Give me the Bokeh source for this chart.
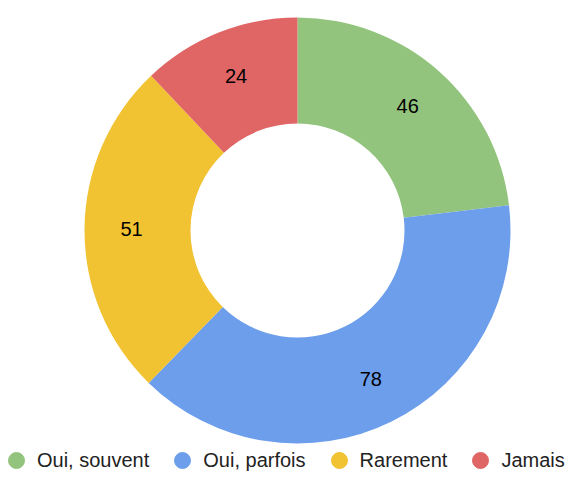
import numpy as np
from bokeh.plotting import figure
from bokeh.models import ColumnDataSource, Legend, LegendItem, Range1d
from bokeh.core.properties import value
from bokeh.embed import file_html
from bokeh.resources import INLINE

# ---- data ----
categories = ["Oui, souvent", "Oui, parfois", "Rarement", "Jamais"]
counts = [46, 78, 51, 24]
colors = ["#93c47d", "#6d9eeb", "#f1c232", "#e06666"]

# ---- layout ----
W, H = 568, 471
cx, cy = 297, 241
R_out, R_in, R_lab = 213, 107, 166

vals = np.array(counts, dtype=float)
frac = vals / vals.sum()
c1 = np.cumsum(frac)
c0 = c1 - frac
start = np.pi / 2 - 2 * np.pi * c1
end = np.pi / 2 - 2 * np.pi * c0
mid = (start + end) / 2

src = ColumnDataSource(dict(
    cat=categories, count=counts, color=colors, start=start, end=end,
    lx=cx + R_lab * np.cos(mid), ly=cy + R_lab * np.sin(mid),
    label=[str(v) for v in counts],
))

p = figure(width=W, height=H, x_range=Range1d(0, W), y_range=Range1d(0, H),
           output_backend="svg", toolbar_location=None, min_border=0)
p.axis.visible = False
p.grid.visible = False
p.outline_line_color = None
p.background_fill_color = "white"

p.annular_wedge(x=cx, y=cy, inner_radius=R_in, outer_radius=R_out,
                start_angle="start", end_angle="end", direction="anticlock",
                fill_color="color", line_color=None, source=src)

p.text(x="lx", y="ly", text="label", source=src, text_align="center",
       text_baseline="middle", text_font=value("Liberation Sans"),
       text_font_size="20px", text_color="#000000")

items = []
for cat, col in zip(categories, colors):
    r = p.scatter(x=[np.nan], y=[np.nan], marker="circle", size=16,
                  fill_color=col, line_color=col)
    items.append(LegendItem(label=cat, renderers=[r]))

legend = Legend(items=items, orientation="horizontal", location=(-4, -9),
                glyph_width=40, glyph_height=40, label_standoff=1, spacing=13,
                label_text_font="Liberation Sans", label_text_font_size="20px",
                label_text_color="#222222", padding=0, margin=0,
                border_line_color=None, background_fill_alpha=0)
p.add_layout(legend, "center")

open("out.html", "w").write(file_html(p, INLINE))
